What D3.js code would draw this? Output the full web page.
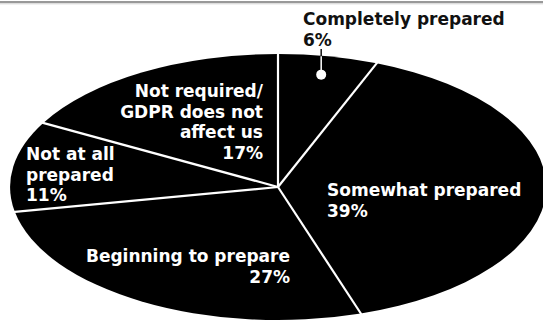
<!DOCTYPE html>
<html>
<head>
<meta charset="utf-8">
<script src="https://cdn.jsdelivr.net/npm/d3@7"></script>
<style>
  body { margin: 0; background: #fff; }
  text { font-family: "DejaVu Sans", sans-serif; font-weight: bold; font-size: 17px; }
</style>
</head>
<body>
<svg id="chart" width="543" height="323"></svg>
<script>
const categories = ["Completely prepared", "Somewhat prepared", "Beginning to prepare", "Not at all prepared", "Not required/GDPR does not affect us"];
const shares = [6, 39, 27, 11, 17];
// label lines per slice, last line is the percentage
const labelLines = [
    ["Completely prepared", "6%"],
    ["Somewhat prepared", "39%"],
    ["Beginning to prepare", "27%"],
    ["Not at all", "prepared", "11%"],
    ["Not required/", "GDPR does not", "affect us", "17%"]
];

const svg = d3.select("#chart");
const CX = 278, CY = 187;
const RX = 268, RY = 133;
const LINE_H = 20.5;

// top rule
svg.append("line").attr("x1", 0).attr("x2", 543).attr("y1", 2).attr("y2", 2)
   .attr("stroke", "#999").attr("stroke-width", 2);
svg.append("line").attr("x1", 0).attr("x2", 543).attr("y1", 3.8).attr("y2", 3.8)
   .attr("stroke", "#cfcfcf").attr("stroke-width", 1);

const data = categories.map((c, i) => ({ name: c, value: shares[i], lines: labelLines[i] }));
const pie = d3.pie().sort(null).value(d => d.value);
const arcs = pie(data);

// unit circle pie, stretched into an ellipse
const arc = d3.arc().innerRadius(0).outerRadius(1);
const g = svg.append("g").attr("transform", `translate(${CX},${CY}) scale(${RX},${RY})`);
g.selectAll("path")
 .data(arcs)
 .enter()
 .append("path")
 .attr("d", arc)
 .attr("fill", "#000");

// ellipse coordinates from pie angle
const px = (a, f) => CX + RX * f * Math.sin(a);
const py = (a, f) => CY - RY * f * Math.cos(a);

svg.selectAll("line.sep")
   .data(arcs)
   .enter()
   .append("line")
   .attr("class", "sep")
   .attr("x1", CX).attr("y1", CY)
   .attr("x2", d => px(d.startAngle, 1.02))
   .attr("y2", d => py(d.startAngle, 1.02))
   .attr("stroke", "#fff")
   .attr("stroke-width", 2.2);

// label placement (x, first baseline, anchor, colour)
const labelPos = [
    { x: 303, y: 25, anchor: "start", fill: "#111" },
    { x: 327, y: 196, anchor: "start", fill: "#fff" },
    { x: 290, y: 262, anchor: "end", fill: "#fff" },
    { x: 26, y: 160, anchor: "start", fill: "#fff" },
    { x: 263, y: 97, anchor: "end", fill: "#fff" }
];

data.forEach((d, i) => {
    const p = labelPos[i];
    const t = svg.append("text")
                 .attr("x", p.x).attr("y", p.y)
                 .attr("text-anchor", p.anchor)
                 .attr("fill", p.fill);
    d.lines.forEach((ln, j) => {
        t.append("tspan").attr("x", p.x).attr("y", p.y + j * LINE_H).text(ln);
    });
});

// leader for the small slice
const small = arcs[0];
const mid = (small.startAngle + small.endAngle) / 2;
const dotX = px(mid, 0.86), dotY = py(mid, 0.86);
svg.append("line")
   .attr("x1", dotX).attr("x2", dotX)
   .attr("y1", 49).attr("y2", dotY)
   .attr("stroke", "#111").attr("stroke-width", 1.5);
svg.append("line")
   .attr("x1", dotX).attr("x2", dotX)
   .attr("y1", py(mid, 1)).attr("y2", dotY)
   .attr("stroke", "#fff").attr("stroke-width", 1.5);
svg.append("circle")
   .attr("cx", dotX).attr("cy", dotY).attr("r", 5)
   .attr("fill", "#fff");
</script>
</body>
</html>
